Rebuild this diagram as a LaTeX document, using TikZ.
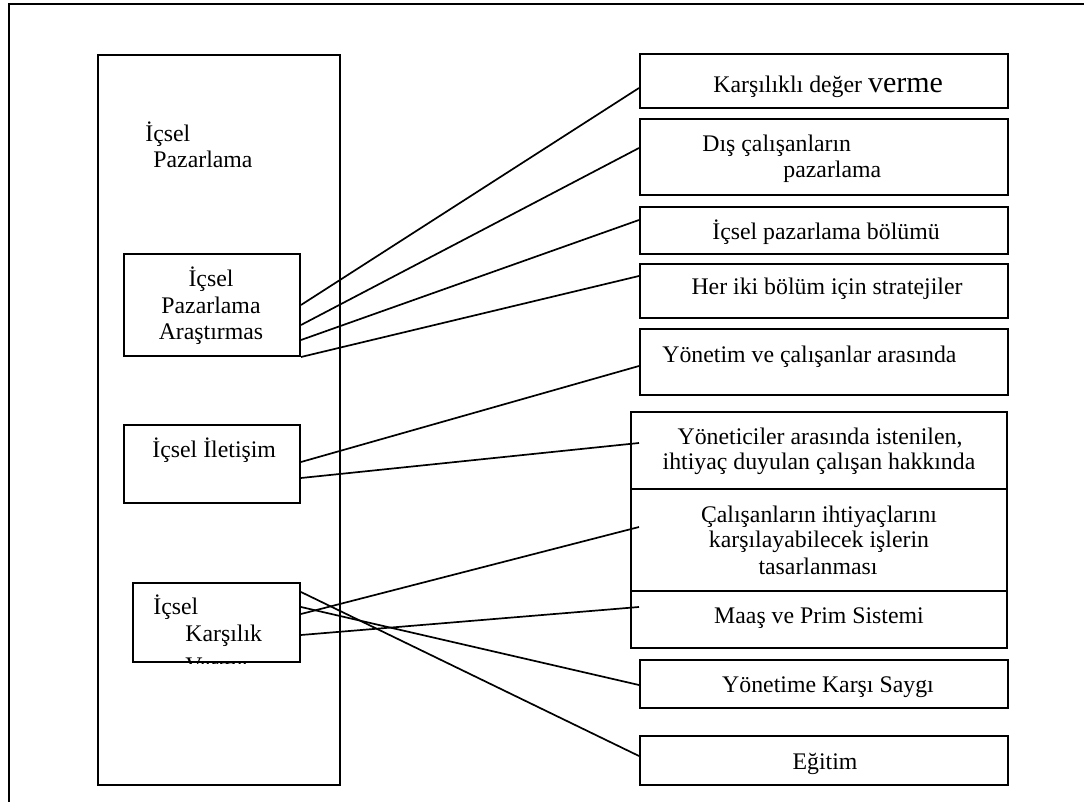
\documentclass[tikz,border=0pt]{standalone}
\usepackage{fontspec}
\setmainfont{Liberation Serif}
\begin{document}
\begin{tikzpicture}[x=0.5pt,y=-0.5pt,
  box/.style={draw, line width=1pt, rectangle, inner sep=0pt, anchor=north west},
  gbox/.style={box, line width=1.2pt},
  link/.style={line width=0.85pt},
  txt/.style={inner sep=0pt, font=\fontsize{11.9}{14}\selectfont},
  txtc/.style={txt, anchor=base},
  txtw/.style={txt, anchor=base west},
]
\useasboundingbox (0,0) rectangle (1084,802);

% page frame
\draw[line width=0.7pt] (1084,4) -- (9,4) -- (9,802);

% left column
\node[box, minimum width=121pt, minimum height=365pt] (outer) at (97,54) {};
\node[txtw] (t-ic1) at (145,142) {İçsel};
\node[txtw] (t-ic2) at (153,168) {Pazarlama};

\node[box, minimum width=88pt, minimum height=51pt] (arast) at (123,253) {};
\node[txtc] (t-ar1) at (211,287) {İçsel};
\node[txtc] (t-ar2) at (211,314) {Pazarlama};
\node[txtc] (t-ar3) at (211,340) {Araştırmas};

\node[box, minimum width=88pt, minimum height=39pt] (ilet) at (123,424) {};
\node[txtw] (t-il) at (152,458) {İçsel İletişim};

\node[box, minimum width=83.5pt, minimum height=39.5pt] (kars) at (132,582) {};
\node[txtw] (t-ka1) at (153,615) {İçsel};
\node[txtw] (t-ka2) at (185,642) {Karşılık};
\begin{scope}
  \clip (132,582) rectangle (299,664);
  \node[txtw] (t-ka3) at (185,674) {Verme};
\end{scope}

% right column
\node[box, minimum width=184pt, minimum height=27pt] (r1) at (639,53) {};
\node[txtw] (t-r1) at (713,93) {Karşılıklı değer {\fontsize{15}{15}\selectfont verme}};

\node[box, minimum width=184pt, minimum height=38pt] (r2) at (639,118) {};
\node[txtw] (t-r2a) at (702,152) {Dış çalışanların};
\node[txtw] (t-r2b) at (783,178) {pazarlama};

\node[box, minimum width=184pt, minimum height=23.5pt] (r3) at (639,206) {};
\node[txtc] (t-r3) at (826,240) {İçsel pazarlama bölümü};

\node[box, minimum width=184pt, minimum height=27pt] (r4) at (639,263) {};
\node[txtc] (t-r4) at (827,295) {Her iki bölüm için stratejiler};

\node[box, minimum width=184pt, minimum height=33pt] (r5) at (639,328) {};
\node[txtw] (t-r5) at (662,363) {Yönetim ve çalışanlar arasında};

\node[gbox, minimum width=188pt, minimum height=38.5pt] (g1) at (630,411) {};
\node[txtc] (t-g1a) at (820,445) {Yöneticiler arasında istenilen,};
\node[txtc] (t-g1b) at (819,470) {ihtiyaç duyulan çalışan hakkında};

\node[gbox, minimum width=188pt, minimum height=51pt] (g2) at (630,488) {};
\node[txtc] (t-g2a) at (819,523) {Çalışanların ihtiyaçlarını};
\node[txtc] (t-g2b) at (819,548) {karşılayabilecek işlerin};
\node[txtc] (t-g2c) at (818,575) {tasarlanması};

\node[gbox, minimum width=188pt, minimum height=28.5pt] (g3) at (630,590) {};
\node[txtc] (t-g3) at (819,624) {Maaş ve Prim Sistemi};

\node[box, minimum width=184pt, minimum height=24pt] (r6) at (639,659) {};
\node[txtc] (t-r6) at (828,693) {Yönetime Karşı Saygı};

\node[box, minimum width=184pt, minimum height=24.5pt] (r7) at (639,735) {};
\node[txtc] (t-r7) at (825,770) {Eğitim};

% connectors
\draw[link] ([yshift=-26pt]arast.north east) -- ([yshift=-17.5pt]r1.north west);
\draw[link] ([yshift=-36pt]arast.north east) -- ([yshift=-15pt]r2.north west);
\draw[link] ([yshift=-43.5pt]arast.north east) -- ([yshift=-7pt]r3.north west);
\draw[link] (arast.south east) -- ([yshift=-6.5pt]r4.north west);

\draw[link] ([yshift=-19pt]ilet.north east) -- ([yshift=-19pt]r5.north west);
\draw[link] ([yshift=-27pt]ilet.north east) -- ([xshift=4.5pt,yshift=-16pt]g1.north west);

\draw[link] ([yshift=-5pt]kars.north east) -- ([yshift=-10.5pt]r7.north west);
\draw[link] ([yshift=-12.5pt]kars.north east) -- ([yshift=-13pt]r6.north west);
\draw[link] ([yshift=-16pt]kars.north east) -- ([xshift=4.5pt,yshift=-19.5pt]g2.north west);
\draw[link] ([yshift=-26.5pt]kars.north east) -- ([xshift=4.5pt,yshift=-8.5pt]g3.north west);
\end{tikzpicture}
\end{document}
